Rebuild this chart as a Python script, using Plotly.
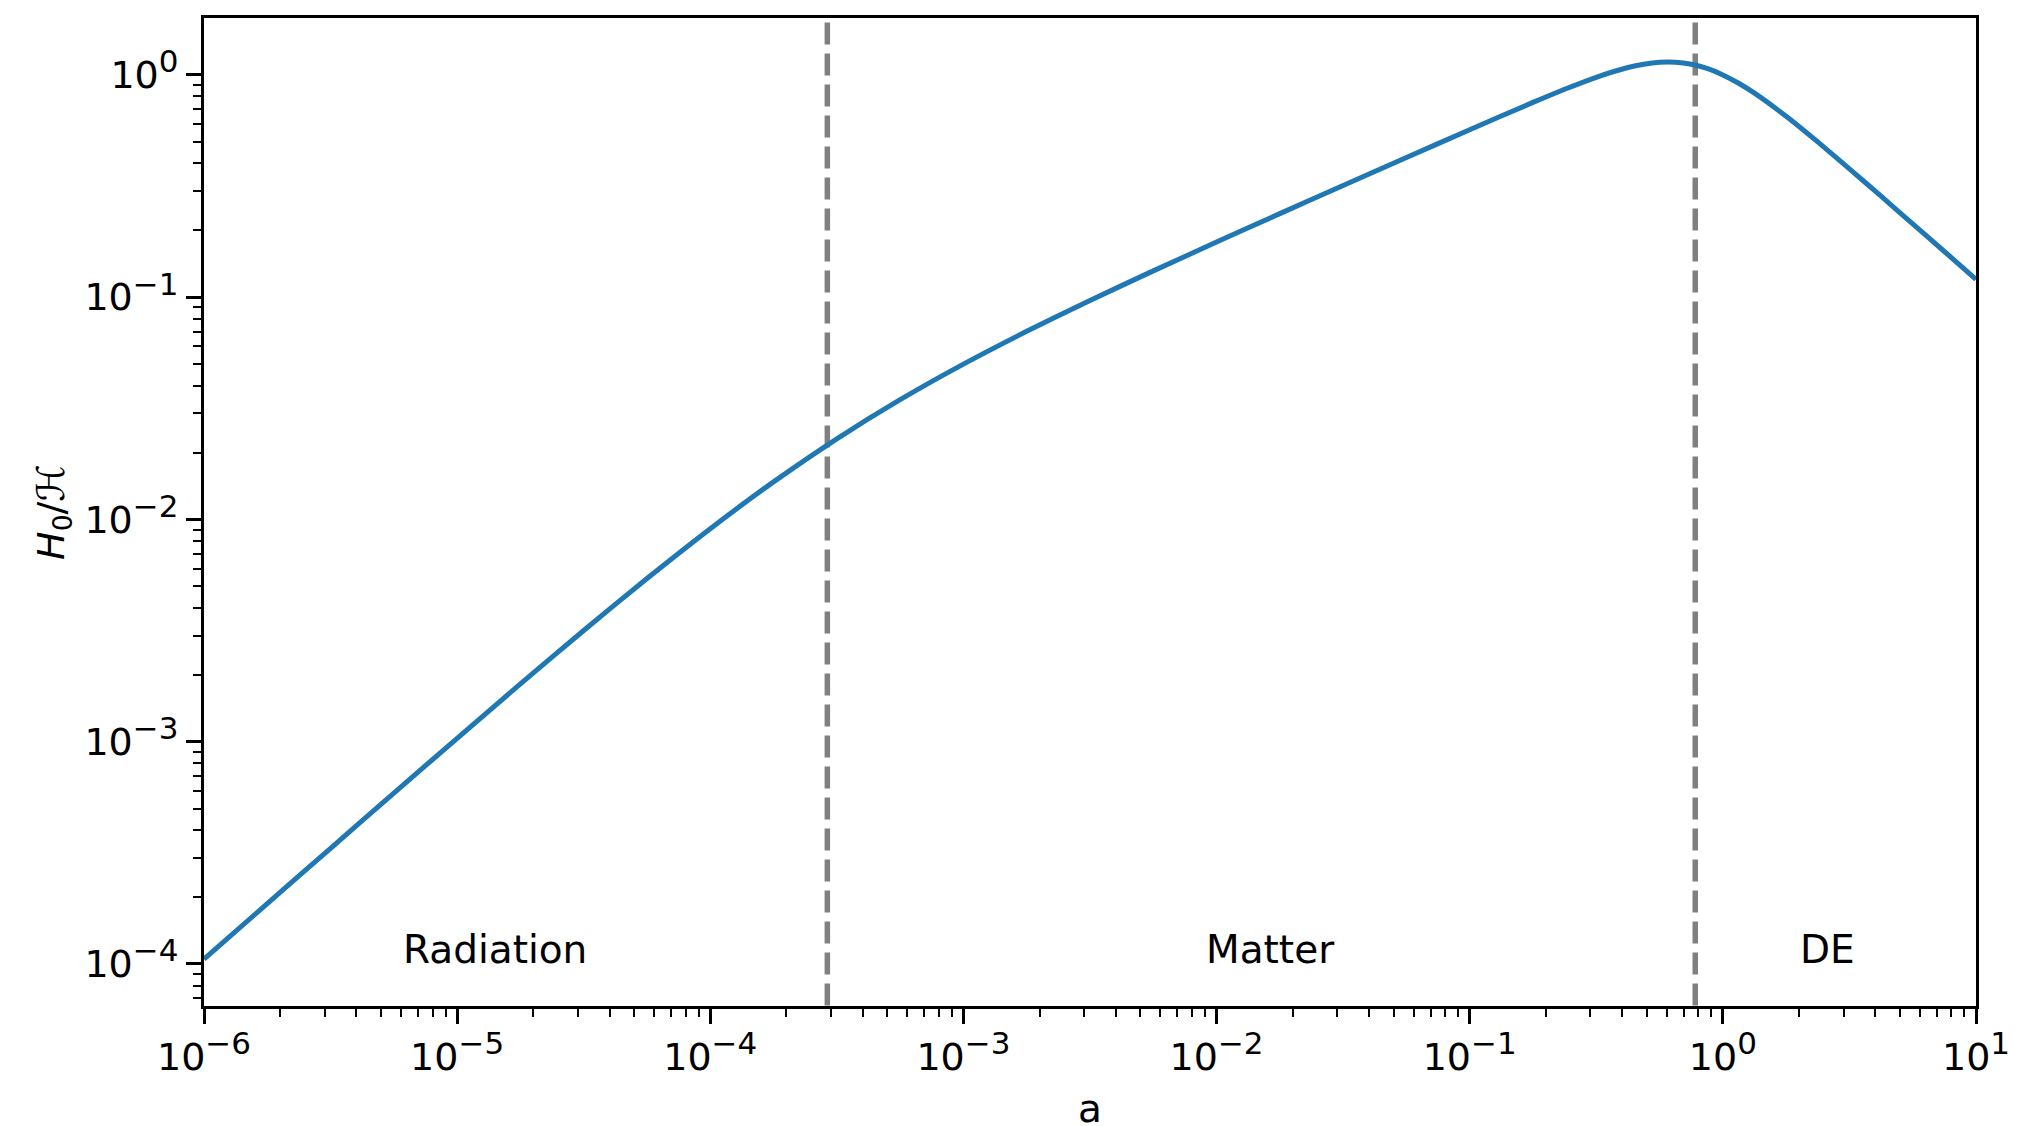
import plotly.graph_objects as go

# Scale factor a
a_vals = [1e-6, 1.778e-6, 3.162e-6, 5.623e-6, 1e-5, 1.778e-5, 3.162e-5, 5.623e-5,
          1e-4, 1.778e-4, 3.162e-4, 5.623e-4, 1e-3, 1.778e-3, 3.162e-3, 5.623e-3,
          1e-2, 1.778e-2, 3.162e-2, 5.623e-2, 0.1, 0.1778, 0.2371, 0.3162, 0.4217,
          0.4870, 0.5623, 0.6494, 0.7499, 0.8660, 1.0, 1.1548, 1.3335, 1.778, 2.371,
          3.162, 4.217, 5.623, 7.499, 10.0]
# H0 / conformal Hubble rate
h_ratio = [1.052e-4, 1.869e-4, 3.315e-4, 5.871e-4, 1.036e-3, 1.820e-3, 3.165e-3, 5.425e-3,
           9.09e-3, 0.01476, 0.02306, 0.03459, 0.0500, 0.07022, 0.09666, 0.1313,
           0.1771, 0.2376, 0.3179, 0.4247, 0.5665, 0.7521, 0.8614, 0.9758, 1.0794,
           1.1176, 1.1398, 1.1407, 1.1169, 1.0687, 1.0000, 0.9172, 0.8278, 0.6515, 0.4993,
           0.3780, 0.2846, 0.2138, 0.1605, 0.1204]

# Epoch boundaries (vertical dashed lines)
a_boundaries = [2.9e-4, 0.778]

# Region labels
region_names = ["Radiation", "Matter", "DE"]

x_exponents = [-6, -5, -4, -3, -2, -1, 0, 1]
y_exponents = [-4, -3, -2, -1, 0]


def sup_label(e):
    s = str(e).replace("-", "\u2212")
    return "10<sup><span style='font-size:31px'>" + s + "</span></sup>"


x_tickvals = [10.0 ** e for e in x_exponents]
x_ticktext = [sup_label(e) for e in x_exponents]
y_tickvals = [10.0 ** e for e in y_exponents]
y_ticktext = [sup_label(e) for e in y_exponents]

x_minor = [m * 10.0 ** e for e in x_exponents[:-1] for m in range(2, 10)]
y_minor = [m * 10.0 ** e for e in [-5] + y_exponents for m in range(2, 10)]

FONT = "DejaVu Sans"
fig = go.Figure()

for ab in a_boundaries:
    fig.add_trace(go.Scatter(
        x=[ab, ab], y=[1e-6, 1e2], mode="lines",
        line=dict(color="#808080", width=5.5, dash="22px,9px"),
        showlegend=False, hoverinfo="skip"))

fig.add_trace(go.Scatter(
    x=a_vals, y=h_ratio, mode="lines",
    line=dict(color="#1f77b4", width=5, shape="spline", smoothing=0.6),
    showlegend=False))

# region label positions (log10 coordinates for log axes)
label_pos = [(-4.85, -3.936), (-1.788, -3.936), (0.413, -3.936)]
for name, (lx, ly) in zip(region_names, label_pos):
    fig.add_annotation(x=lx, y=ly, xref="x", yref="y", text=name, showarrow=False,
                       font=dict(family=FONT, size=39, color="black"),
                       xanchor="center", yanchor="middle")

# x-axis title placed as a paper annotation (sits lower than the margin allows for a title)
fig.add_annotation(x=0.5, y=-0.1035, xref="paper", yref="paper", text="a", showarrow=False,
                   font=dict(family=FONT, size=39, color="black"),
                   xanchor="center", yanchor="middle")

axis_common = dict(
    showgrid=False, zeroline=False, showline=True, linecolor="black", linewidth=2.8,
    mirror=True, ticks="outside", ticklen=15, tickwidth=2.5, tickcolor="black",
    tickfont=dict(family=FONT, size=38, color="black"), automargin=False,
)

fig.update_xaxes(type="log", range=[-6, 1], tickmode="array", tickvals=x_tickvals, ticktext=x_ticktext,
                 minor=dict(tickmode="array", tickvals=x_minor, ticks="outside", ticklen=8.5,
                            tickwidth=2, tickcolor="black", showgrid=False),
                 ticklabelstandoff=0,
                 **axis_common)
fig.update_yaxes(type="log", range=[-4.189, 0.256], tickmode="array", tickvals=y_tickvals, ticktext=y_ticktext,
                 minor=dict(tickmode="array", tickvals=y_minor, ticks="outside", ticklen=8.5,
                            tickwidth=2, tickcolor="black", showgrid=False),
                 ticklabelstandoff=0,
                 title=dict(text="<i>H</i><sub>0</sub>/\u210b", font=dict(family=FONT, size=38, color="black"),
                            standoff=9),
                 **axis_common)

fig.update_layout(
    width=2010, height=1118,
    margin=dict(l=196, r=42, t=10, b=120),
    paper_bgcolor="white", plot_bgcolor="white",
    font=dict(family=FONT, size=38, color="black"),
)

fig.write_html("out.html")
